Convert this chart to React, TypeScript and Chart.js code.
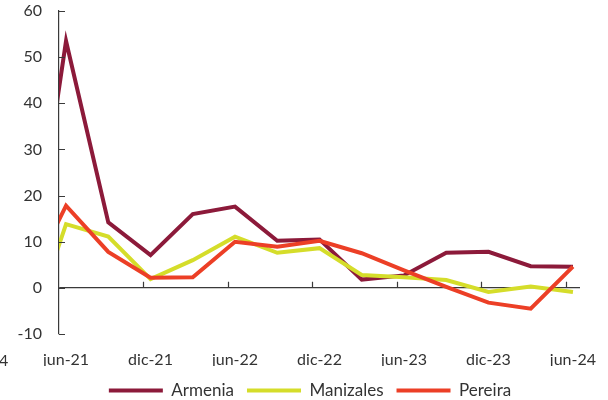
import React, { useEffect, useRef } from "react";
import { Chart, registerables } from "chart.js";

Chart.register(...registerables);

// months relative to jun-21 (0 = jun-21)
const months = [-3, 0, 3, 6, 9, 12, 15, 18, 21, 24, 27, 30, 33, 36];
const armenia = [-8.3, 53.5, 14.2, 7.1, 16.0, 17.6, 10.2, 10.5, 1.8, 2.7, 7.6, 7.8, 4.7, 4.6];
const manizales = [-13.2, 13.8, 11.1, 1.9, 6.0, 11.1, 7.6, 8.6, 2.8, 2.3, 1.7, -0.9, 0.3, -0.9];
const pereira = [-0.8, 17.8, 7.8, 2.2, 2.3, 10.0, 8.9, 10.2, 7.5, 3.8, 0.2, -3.2, -4.5, 4.6];

const xLabelMonths = [0, 6, 12, 18, 24, 30, 36];
const xLabels = ["jun-21", "dic-21", "jun-22", "dic-22", "jun-23", "dic-23", "jun-24"];
const xTickMarks = [5.5, 11.5, 17.5, 23.5, 29.5, 35.5];
const xMin = -0.5;
const xMax = 36.5;
const yMin = -10;
const yMax = 60;
const yStep = 10;

const seriesNames = ["Armenia", "Manizales", "Pereira"];
const seriesColors = ["#8C1A3A", "#D5DD2A", "#EC3F26"];
const FONT = "Lato";
const TEXT = "#333333";
const AXIS = "#3a3a3a";
const LEGEND_HEIGHT = 34;

const tickPlugin = {
  id: "innerTicks",
  beforeLayout(chart: any) {
    const lg = chart.legend;
    if (lg && !lg.__fixedHeight) {
      const orig = lg.fit.bind(lg);
      lg.fit = function () {
        orig();
        this.height = LEGEND_HEIGHT;
      };
      lg.__fixedHeight = true;
    }
  },
  afterLayout(chart: any) {
    if (chart.legend) {
      chart.legend.top += 3;
      chart.legend.bottom += 3;
      chart.legend.left += 20;
      chart.legend.right += 20;
    }
  },
  afterDraw(chart: any) {
    const { ctx, scales } = chart;
    const x = scales.x;
    const y = scales.y;
    const left = chart.chartArea.left;
    ctx.save();
    ctx.strokeStyle = AXIS;
    ctx.lineWidth = 1.2;
    ctx.beginPath();
    for (let v = yMin; v <= yMax; v += yStep) {
      const py = Math.round(y.getPixelForValue(v)) + 0.5;
      ctx.moveTo(left, py);
      ctx.lineTo(left + 6, py);
    }
    const y0 = y.getPixelForValue(0);
    for (const m of xTickMarks) {
      const px = Math.round(x.getPixelForValue(m)) + 0.5;
      ctx.moveTo(px, y0);
      ctx.lineTo(px, y0 - 6);
    }
    ctx.stroke();
    ctx.restore();
  },
};

export default function App() {
  const ref = useRef<HTMLCanvasElement | null>(null);

  useEffect(() => {
    if (!ref.current) return;
    const series = [armenia, manizales, pereira];
    const chart = new Chart(ref.current, {
      type: "line",
      data: {
        datasets: series.map((s, i) => ({
          label: seriesNames[i],
          data: months.map((m, j) => ({ x: m, y: s[j] })),
          borderColor: seriesColors[i],
          backgroundColor: seriesColors[i],
          borderWidth: 4,
          pointRadius: 0,
          tension: 0,
          order: 3 - i,
        })),
      },
      options: {
        responsive: false,
        animation: false,
        layout: { padding: { left: 0, right: 28, top: 11, bottom: 0 } },
        plugins: {
          tooltip: { enabled: false },
          legend: {
            position: "bottom",
            labels: {
              boxWidth: 54,
              boxHeight: 4,
              padding: 13,
              color: TEXT,
              font: { family: FONT, size: 17 },
              sort: (a: any, b: any) => a.datasetIndex - b.datasetIndex,
              generateLabels: (c: any) =>
                Chart.defaults.plugins.legend.labels
                  .generateLabels(c)
                  .map((it: any) => ({ ...it, lineWidth: 0, fillStyle: it.strokeStyle })),
            },
          },
        },
        scales: {
          x: {
            type: "linear",
            min: xMin,
            max: xMax,
            grid: { display: false },
            border: { display: false },
            afterBuildTicks: (scale: any) => {
              scale.ticks = xLabelMonths.map((v) => ({ value: v }));
            },
            afterFit: (scale: any) => {
              scale.height = 32;
            },
            ticks: {
              autoSkip: false,
              maxRotation: 0,
              padding: 8,
              color: TEXT,
              font: { family: FONT, size: 16 },
              callback: (v: any) => {
                const i = xLabelMonths.indexOf(Number(v));
                return i >= 0 ? xLabels[i] : "";
              },
            },
          },
          y: {
            min: yMin,
            max: yMax,
            afterFit: (scale: any) => {
              scale.width = 59;
              scale.paddingTop = 0;
              scale.paddingBottom = 0;
            },
            grid: {
              drawTicks: false,
              color: (c: any) => (c.tick && c.tick.value === 0 ? AXIS : "rgba(0,0,0,0)"),
              lineWidth: 1.2,
            },
            border: { display: true, color: AXIS, width: 1.2 },
            ticks: {
              stepSize: yStep,
              padding: 17,
              color: TEXT,
              font: { family: FONT, size: 16 },
            },
          },
        },
      },
      plugins: [tickPlugin],
    });
    return () => chart.destroy();
  }, []);

  return (
    <div style={{ position: "fixed", left: 0, top: 0, width: 608, height: 400, background: "#fff", overflow: "hidden" }}>
      <canvas ref={ref} width={608} height={400} style={{ display: "block" }} />
      <span
        style={{
          position: "absolute",
          left: -1,
          top: 350,
          fontFamily: FONT,
          fontSize: 16,
          color: TEXT,
          lineHeight: "20px",
        }}
      >
        4
      </span>
    </div>
  );
}
